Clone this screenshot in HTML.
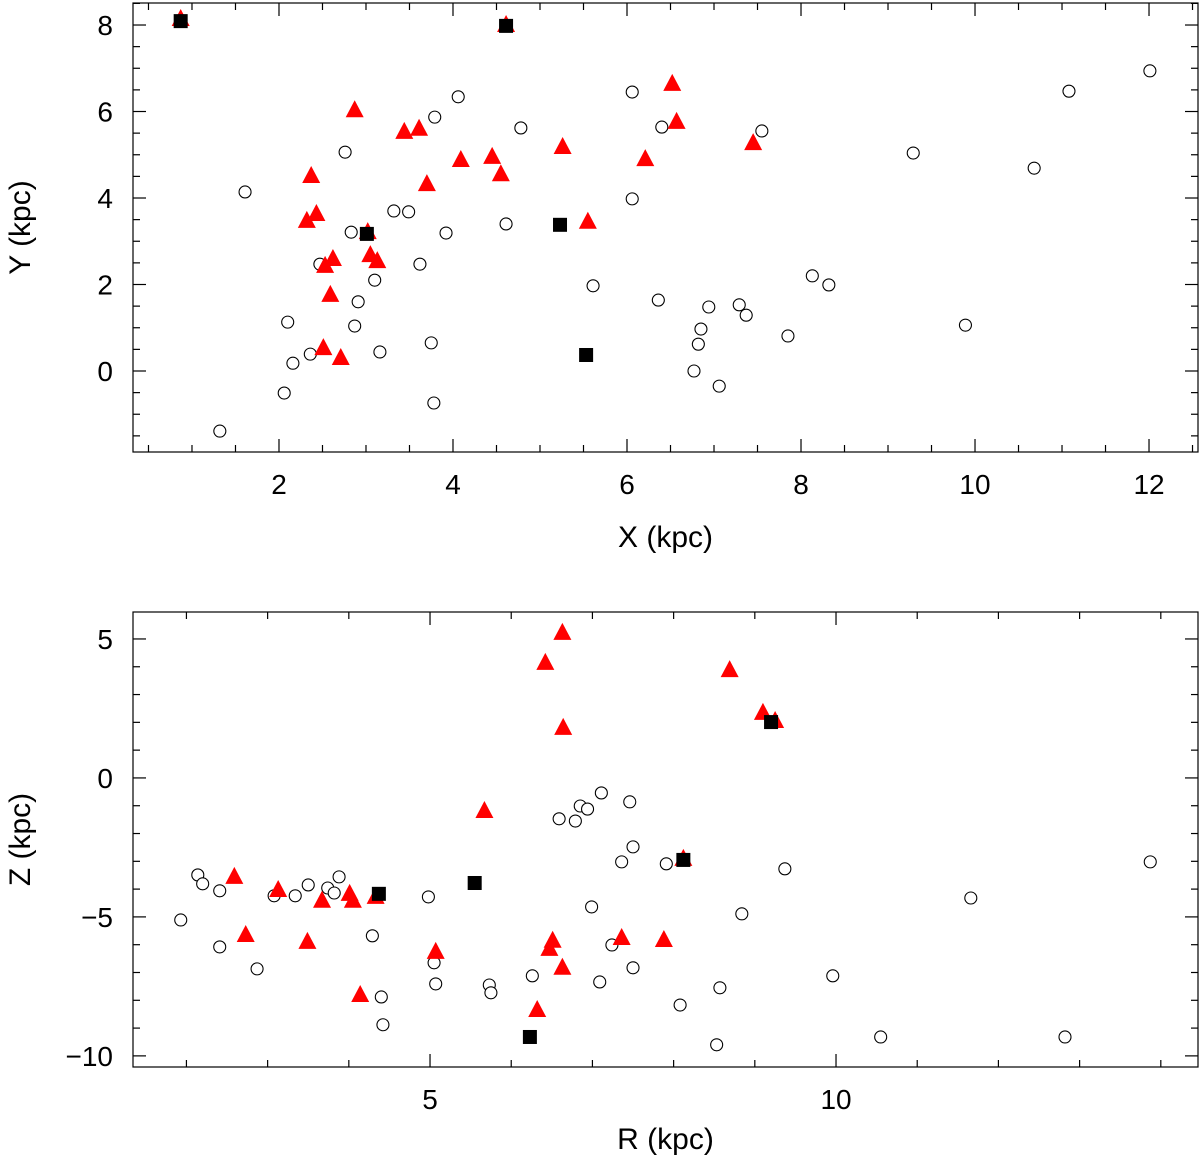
<!DOCTYPE html>
<html><head><meta charset="utf-8"><style>
html,body{margin:0;padding:0;background:#fff;}
svg{display:block;font-family:"Liberation Sans",sans-serif;}
</style></head><body>
<svg id="chart" width="1200" height="1159" viewBox="0 0 1200 1159" xmlns="http://www.w3.org/2000/svg"></svg>
<script>
// ---- Top panel data (X, Y in kpc) ----
const topCircleX = [1.61,1.32,2.10,2.06,2.16,2.36,2.47,2.76,2.83,2.91,2.87,3.10,3.16,3.32,3.49,3.62,3.79,3.75,3.78,3.92,4.06,4.61,4.78,5.61,6.06,6.06,6.36,6.40,6.77,6.82,6.85,6.94,7.06,7.29,7.37,7.55,7.85,8.13,8.32,9.29,9.89,10.68,11.08,12.01];
const topCircleY = [4.14,-1.39,1.13,-0.51,0.18,0.39,2.47,5.06,3.21,1.60,1.04,2.10,0.44,3.70,3.68,2.47,5.87,0.65,-0.74,3.19,6.34,3.40,5.62,1.97,6.45,3.98,1.64,5.64,0.00,0.62,0.97,1.48,-0.35,1.53,1.29,5.55,0.81,2.20,1.99,5.04,1.06,4.69,6.47,6.94];
const topTriX = [0.87,4.61,2.87,3.44,3.61,2.37,2.32,2.43,2.53,2.62,2.59,2.51,2.71,3.02,3.05,3.13,3.70,4.09,4.45,4.55,5.26,5.55,6.21,6.52,6.57,7.45];
const topTriY = [8.14,8.00,6.03,5.53,5.60,4.51,3.47,3.63,2.43,2.59,1.76,0.53,0.30,3.21,2.68,2.54,4.32,4.88,4.95,4.55,5.18,3.45,4.90,6.64,5.76,5.27];
const topSqX = [0.87,4.61,3.01,5.23,5.53];
const topSqY = [8.09,7.98,3.17,3.38,0.37];
const topXTicks = [2,4,6,8,10,12];
const topYTicks = [0,2,4,6,8];

// ---- Bottom panel data (R, Z in kpc) ----
const botCircleR = [1.93,2.14,2.20,2.41,2.41,2.87,3.08,3.34,3.50,3.74,3.82,3.88,4.29,4.40,4.42,4.98,5.05,5.07,5.73,5.75,6.26,6.59,6.79,6.85,6.94,6.99,7.09,7.11,7.24,7.36,7.46,7.50,7.50,7.91,8.08,8.53,8.57,8.84,9.37,9.96,10.55,11.66,12.82,13.87];
const botCircleZ = [-5.11,-3.49,-3.81,-4.06,-6.08,-6.87,-4.24,-4.24,-3.85,-3.96,-4.14,-3.56,-5.68,-7.88,-8.88,-4.28,-6.65,-7.41,-7.45,-7.73,-7.12,-1.47,-1.55,-1.01,-1.12,-4.64,-7.34,-0.54,-6.01,-3.02,-0.86,-2.48,-6.83,-3.09,-8.17,-9.60,-7.55,-4.89,-3.27,-7.12,-9.32,-4.32,-9.32,-3.02];
const botTriR = [2.59,2.73,3.13,3.49,3.67,4.01,4.05,4.14,4.33,5.07,5.67,6.32,6.42,6.47,6.51,6.63,6.64,6.63,7.36,7.88,8.12,8.69,9.10,9.25];
const botTriZ = [-3.56,-5.65,-4.03,-5.90,-4.42,-4.17,-4.42,-7.81,-4.28,-6.26,-1.19,-8.35,4.14,-6.15,-5.86,5.22,1.80,-6.83,-5.76,-5.83,-2.91,3.88,2.34,2.05];
const botSqR = [4.37,5.55,6.23,8.12,9.20];
const botSqZ = [-4.17,-3.78,-9.32,-2.95,2.01];
const botXTicks = [5,10];
const botYTicks = [-10,-5,0,5];

const NS = "http://www.w3.org/2000/svg";
const svg = document.getElementById('chart');
function mk(tag, attrs, parent){
  const e = document.createElementNS(NS, tag);
  for (const k in attrs) e.setAttribute(k, attrs[k]);
  (parent||svg).appendChild(e);
  return e;
}

function panel(cfg){
  const g = mk('g', {});
  
  
  const L=cfg.box[0], T=cfg.box[1], R=cfg.box[2], B=cfg.box[3];
  const sx = v => L + (v - cfg.xr[0]) / (cfg.xr[1]-cfg.xr[0]) * (R-L);
  const sy = v => B - (v - cfg.yr[0]) / (cfg.yr[1]-cfg.yr[0]) * (B-T);
  const frame = mk('rect', {x:L, y:T, width:R-L, height:B-T, fill:'none', stroke:'#000', 'stroke-width':1.2}, g);
  
  
  const ticks = mk('g', {stroke:'#000','stroke-width':1.2}, g);
  
  
  for (let v = Math.ceil(cfg.xr[0]/cfg.xminor)*cfg.xminor; v <= cfg.xr[1]; v += cfg.xminor){
    const x = sx(v);
    const major = Math.abs(v/cfg.xmajor - Math.round(v/cfg.xmajor))<1e-6;
    const len = major?13:7;
    mk('line',{x1:x,x2:x,y1:B,y2:B-len},ticks);
    mk('line',{x1:x,x2:x,y1:T,y2:T+len},ticks);
  }
  for (let v = Math.ceil(cfg.yr[0]/cfg.yminor)*cfg.yminor; v <= cfg.yr[1]; v += cfg.yminor){
    const y = sy(v);
    const major = Math.abs(v/cfg.ymajor - Math.round(v/cfg.ymajor))<1e-6;
    const len = major?13:7;
    mk('line',{x1:L,x2:L+len,y1:y,y2:y},ticks);
    mk('line',{x1:R,x2:R-len,y1:y,y2:y},ticks);
  }
  cfg.xticks.forEach(v=>{
    const t = mk('text',{x:sx(v), y:B+42, 'text-anchor':'middle','font-size':28}, g);
    t.textContent = v;
    
    
  });
  cfg.yticks.forEach(v=>{
    const t = mk('text',{x:L-20, y:sy(v)+10, 'text-anchor':'end','font-size':28}, g);
    t.textContent = v<0 ? '\u2212'+Math.abs(v) : v;
    
    
  });
  const xt = mk('text',{x:(L+R)/2, y:B+cfg.xlabOff, 'text-anchor':'middle','font-size':30}, g);
  xt.textContent = cfg.xlabel;
  
  
  const yc = (T+B)/2;
  const yt = mk('text',{x:30, y:yc, 'text-anchor':'middle','font-size':30, transform:'rotate(-90 30 '+yc+')'}, g);
  yt.textContent = cfg.ylabel;
  
  
  cfg.cx.forEach((v,i)=>{
    const c = mk('circle',{cx:sx(v), cy:sy(cfg.cy[i]), r:6, fill:'#fff', stroke:'#000','stroke-width':1.1}, g);
    
    
  });
  cfg.tx.forEach((v,i)=>{
    const x = sx(v), y = sy(cfg.ty[i]);
    const p = mk('polygon',{points:`${x},${y-10} ${x-9},${y+7} ${x+9},${y+7}`, fill:'#f00'}, g);
    
    
  });
  cfg.qx.forEach((v,i)=>{
    const x = sx(v), y = sy(cfg.qy[i]);
    const s = mk('rect',{x:x-7, y:y-7, width:14, height:14, fill:'#000'}, g);
    
    
  });
}

panel({name:'xy-panel', box:[133,3,1198,452], xr:[0.322,12.563], yr:[-1.873,8.509],
  xmajor:2, xminor:0.5, ymajor:2, yminor:0.5, xticks:topXTicks, yticks:topYTicks,
  xlabel:'X (kpc)', ylabel:'Y (kpc)', xlabOff:95,
  cx:topCircleX, cy:topCircleY, tx:topTriX, ty:topTriY, qx:topSqX, qy:topSqY});

panel({name:'rz-panel', box:[133,612,1198,1067], xr:[1.342,14.458], yr:[-10.4,5.97],
  xmajor:5, xminor:1, ymajor:5, yminor:1, xticks:botXTicks, yticks:botYTicks,
  xlabel:'R (kpc)', ylabel:'Z (kpc)', xlabOff:82,
  cx:botCircleR, cy:botCircleZ, tx:botTriR, ty:botTriZ, qx:botSqR, qy:botSqZ});
</script>
</body></html>
